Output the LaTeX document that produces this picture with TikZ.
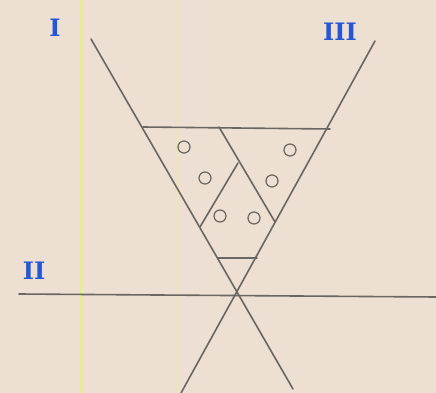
\documentclass[tikz,border=0pt]{standalone}
\usepackage{fontspec}
\setmainfont{DejaVu Serif}
\definecolor{paper}{HTML}{EDDFD1}
\definecolor{pencil}{HTML}{6A6662}
\definecolor{ink}{HTML}{2456D6}
\definecolor{hilite}{HTML}{E2F27A}
\begin{document}
\begin{tikzpicture}[x=1pt,y=-1pt,
  pen/.style={draw=pencil,line width=1.6pt,line cap=round},
  bubble/.style={circle,draw=pencil,line width=1.2pt,minimum size=12pt,inner sep=0pt},
  numeral/.style={text=ink,font=\bfseries\fontsize{24}{24}\selectfont,inner sep=0pt}]
\fill[paper] (0,0) rectangle (436,393);
\useasboundingbox (0,0) rectangle (436,393);
\draw[hilite,line width=1.5pt] (81,0) -- (81,393);
\draw[hilite!50!paper,line width=0.8pt] (176,0) -- (176,393);
% main lines
\coordinate (Ia) at (91,39);
\coordinate (Ib) at (293,389);
\coordinate (IIIa) at (375,41);
\coordinate (IIIb) at (181,393);
\coordinate (IIa) at (19,294);
\coordinate (IIb) at (436,297);
\draw[pen] (Ia) -- (Ib);
\draw[pen] (IIIa) -- (IIIb);
\draw[pen] (IIa) -- (IIb);
% top horizontal
\coordinate (Ta) at (143,127);
\coordinate (Tb) at (330,129);
\draw[pen] (Ta) -- (Tb);
% inner lines
\coordinate (P1) at (219,127);
\coordinate (P2) at (275,222);
\draw[pen] (P1) -- (P2);
\coordinate (Q1) at (238,163);
\coordinate (Q2) at (200,227);
\draw[pen] (Q1) -- (Q2);
\coordinate (S1) at (218,258);
\coordinate (S2) at (257,258);
\draw[pen] (S1) -- (S2);
% circles
\node[bubble] (c1) at (184,147) {};
\node[bubble] (c2) at (290,150) {};
\node[bubble] (c3) at (205,178) {};
\node[bubble] (c4) at (272,181) {};
\node[bubble] (c5) at (220,216) {};
\node[bubble] (c6) at (254,218) {};
% labels
\node[numeral] (lI) at (55,28) {I};
\node[numeral] (lIII) at (340,32) {III};
\node[numeral] (lII) at (34,271) {II};
\end{tikzpicture}
\end{document}
